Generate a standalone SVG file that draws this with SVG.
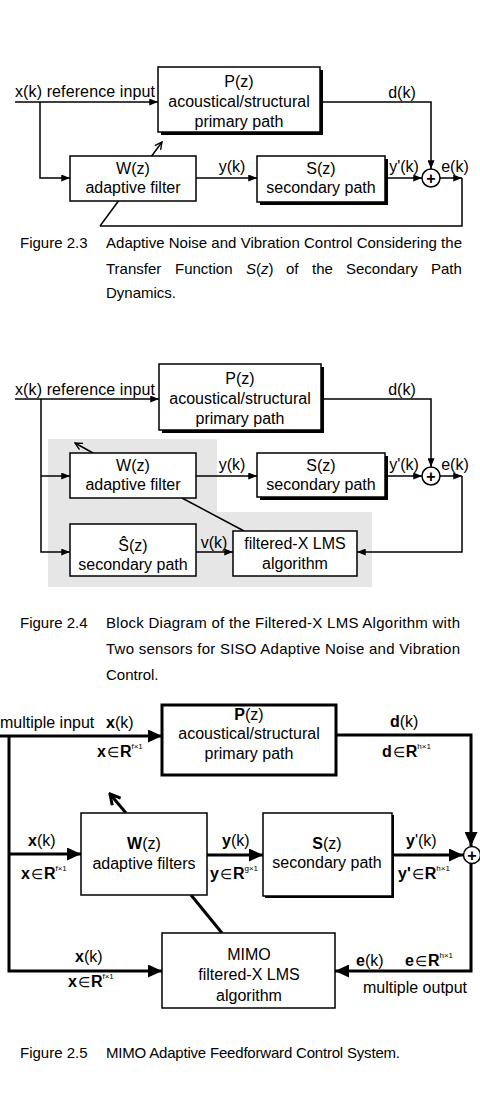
<svg xmlns="http://www.w3.org/2000/svg" width="480" height="1094" viewBox="0 0 480 1094">
<style>
text{font-family:"Liberation Sans",Arial,sans-serif;fill:#000}
.t{font-size:16px}
.m{text-anchor:middle}
.c{font-size:15px}
.b{font-weight:bold}
.sup{font-size:8px}
.el{font-size:14px}
.box{fill:#fff;stroke:#000;stroke-width:1.5}
.sh{fill:#000}
.ln{fill:none;stroke:#000;stroke-width:1.5}
.tk{fill:none;stroke:#000;stroke-width:3}
</style>
<defs>
<marker id="a" viewBox="0 0 10 8" refX="10" refY="4" markerWidth="9" markerHeight="7" markerUnits="userSpaceOnUse" orient="auto"><path d="M0,0 L10,4 L0,8 z"/></marker>
<marker id="A" viewBox="0 0 14 13" refX="14" refY="6.5" markerWidth="14" markerHeight="13" markerUnits="userSpaceOnUse" orient="auto"><path d="M0,0 L14,6.5 L0,13 z"/></marker>
<marker id="o" viewBox="0 0 10 10" refX="9" refY="5" markerWidth="9" markerHeight="9" markerUnits="userSpaceOnUse" orient="auto"><path d="M1,1 L9,5 L1,9" fill="none" stroke="#000" stroke-width="1.5"/></marker>
<marker id="O" viewBox="0 0 14 14" refX="12" refY="7" markerWidth="14" markerHeight="14" markerUnits="userSpaceOnUse" orient="auto"><path d="M2,1.5 L12,7 L2,12.5" fill="none" stroke="#000" stroke-width="3"/></marker>
</defs>
<rect width="480" height="1094" fill="#fff"/>

<!-- ===== Figure 2.3 ===== -->
<g id="fig23-connectors">
<path class="ln" d="M15,102 H158" marker-end="url(#a)"/>
<path class="ln" d="M40,102 V178 H70" marker-end="url(#a)"/>
<path class="ln" d="M196,178 H257" marker-end="url(#a)"/>
<path class="ln" d="M385,178 H422" marker-end="url(#a)"/>
<path class="ln" d="M320,102 H431 V169" marker-end="url(#a)"/>
<path class="ln" d="M440,178 H462" marker-end="url(#a)"/>
<path class="ln" d="M462,178 V226 H100"/>
<path class="ln" d="M100,226 L162,142" marker-end="url(#o)"/>
</g>
<g id="fig23-labels">
<text class="t" x="15" y="97" textLength="140">x(k) reference input</text>
<text class="t m" x="232" y="172">y(k)</text>
<text class="t m" x="404" y="172">y'(k)</text>
<text class="t m" x="402" y="98">d(k)</text>
<text class="t m" x="455" y="172">e(k)</text>
</g>
<g id="fig23-P">
<rect class="sh" x="161" y="70" width="162" height="65"/>
<rect class="box" x="158" y="67" width="162" height="65"/>
<text class="t m" x="239" y="87">P(z)</text>
<text class="t m" x="239" y="107">acoustical/structural</text>
<text class="t m" x="239" y="127">primary path</text>
</g>
<g id="fig23-W">
<rect class="box" x="70" y="156" width="126" height="45"/>
<text class="t m" x="133" y="174">W(z)</text>
<text class="t m" x="133" y="193">adaptive filter</text>
</g>
<g id="fig23-S">
<rect class="sh" x="260" y="159" width="128" height="46"/>
<rect class="box" x="257" y="156" width="128" height="46"/>
<text class="t m" x="321" y="174">S(z)</text>
<text class="t m" x="321" y="193">secondary path</text>
</g>
<g id="fig23-sum">
<circle class="box" cx="431" cy="178" r="9"/>
<text class="t m b" x="431" y="184">+</text>
</g>
<g id="fig23-caption">
<text class="c" x="20" y="248">Figure 2.3</text>
<text class="c" x="106" y="248" textLength="356" lengthAdjust="spacing">Adaptive Noise and Vibration Control Considering the</text>
<text class="c" x="106" y="274">Transfer</text>
<text class="c" x="175" y="274">Function</text>
<text class="c" x="246" y="274"><tspan font-style="italic">S</tspan>(<tspan font-style="italic">z</tspan>)</text>
<text class="c" x="286" y="274">of</text>
<text class="c" x="312" y="274">the</text>
<text class="c" x="346" y="274">Secondary</text>
<text class="c" x="431" y="274">Path</text>
<text class="c" x="106" y="298">Dynamics.</text>
</g>

<!-- ===== Figure 2.4 ===== -->
<polygon id="fig24-shade" points="48,439 217,439 217,512 372,512 372,587 48,587" fill="#e6e6e6"/>
<g id="fig24-connectors">
<path class="ln" d="M15,399 H159" marker-end="url(#a)"/>
<path class="ln" d="M41,399 V552 H70" marker-end="url(#a)"/>
<path class="ln" d="M41,476 H70" marker-end="url(#a)"/>
<path class="ln" d="M196,476 H257" marker-end="url(#a)"/>
<path class="ln" d="M385,476 H422" marker-end="url(#a)"/>
<path class="ln" d="M321,399 H431 V467" marker-end="url(#a)"/>
<path class="ln" d="M440,476 H462" marker-end="url(#a)"/>
<path class="ln" d="M462,476 V552 H357" marker-end="url(#a)"/>
<path class="ln" d="M196,552 H233" marker-end="url(#a)"/>
<path class="ln" d="M93,453 L75,443" marker-end="url(#o)"/>
<path class="ln" d="M182,498 L244,531"/>
</g>
<g id="fig24-labels">
<text class="t" x="15" y="395" textLength="140">x(k) reference input</text>
<text class="t m" x="232" y="470">y(k)</text>
<text class="t m" x="404" y="470">y'(k)</text>
<text class="t m" x="402" y="395">d(k)</text>
<text class="t m" x="455" y="470">e(k)</text>
<text class="t m" x="214" y="548">v(k)</text>
</g>
<g id="fig24-P">
<rect class="sh" x="162" y="367" width="162" height="66"/>
<rect class="box" x="159" y="364" width="162" height="66"/>
<text class="t m" x="240" y="384">P(z)</text>
<text class="t m" x="240" y="404">acoustical/structural</text>
<text class="t m" x="240" y="424">primary path</text>
</g>
<g id="fig24-W">
<rect class="box" x="70" y="453" width="126" height="45"/>
<text class="t m" x="133" y="471">W(z)</text>
<text class="t m" x="133" y="490">adaptive filter</text>
</g>
<g id="fig24-S">
<rect class="sh" x="260" y="456" width="128" height="44"/>
<rect class="box" x="257" y="453" width="128" height="44"/>
<text class="t m" x="321" y="471">S(z)</text>
<text class="t m" x="321" y="490">secondary path</text>
</g>
<g id="fig24-sum">
<circle class="box" cx="431" cy="476" r="9"/>
<text class="t m b" x="431" y="482">+</text>
</g>
<g id="fig24-Shat">
<rect class="box" x="70" y="524" width="126" height="52"/>
<text class="t m" x="133" y="551">Ŝ(z)</text>
<text class="t m" x="133" y="570">secondary path</text>
</g>
<g id="fig24-LMS">
<rect class="box" x="233" y="531" width="124" height="45"/>
<text class="t m" x="295" y="549">filtered-X LMS</text>
<text class="t m" x="295" y="569">algorithm</text>
</g>
<g id="fig24-caption">
<text class="c" x="20" y="628">Figure 2.4</text>
<text class="c" x="106" y="628" textLength="354" lengthAdjust="spacing">Block Diagram of the Filtered-X LMS Algorithm with</text>
<text class="c" x="106" y="654" textLength="354" lengthAdjust="spacing">Two sensors for SISO Adaptive Noise and Vibration</text>
<text class="c" x="106" y="680">Control.</text>
</g>

<!-- ===== Figure 2.5 ===== -->
<g id="fig25-connectors">
<path class="tk" d="M0,736 H162" marker-end="url(#A)"/>
<path class="tk" d="M9,736 V971 H162" marker-end="url(#A)"/>
<path class="tk" d="M9,854 H81" marker-end="url(#A)"/>
<path class="tk" d="M207,855 H263" marker-end="url(#A)"/>
<path class="tk" d="M392,855 H463" marker-end="url(#A)"/>
<path class="tk" d="M336,735 H471 V846" marker-end="url(#A)"/>
<path class="tk" d="M471,864 V971 H335" marker-end="url(#A)"/>
<path class="tk" d="M126,813 L110,794" marker-end="url(#O)"/>
<path class="tk" d="M191,895 L222,933"/>
</g>
<g id="fig25-labels">
<text class="t" x="0" y="728">multiple input</text>
<text class="t" x="106" y="728"><tspan class="b">x</tspan>(k)</text>
<text class="t" x="97" y="757"><tspan class="b">x</tspan><tspan class="el" dx="1">∈</tspan><tspan class="b" dx="1">R</tspan><tspan class="sup" dy="-8">f×1</tspan></text>
<text class="t" x="28" y="846"><tspan class="b">x</tspan>(k)</text>
<text class="t" x="21" y="879"><tspan class="b">x</tspan><tspan class="el" dx="1">∈</tspan><tspan class="b" dx="1">R</tspan><tspan class="sup" dy="-8">f×1</tspan></text>
<text class="t" x="222" y="846"><tspan class="b">y</tspan>(k)</text>
<text class="t" x="210" y="879"><tspan class="b">y</tspan><tspan class="el" dx="1">∈</tspan><tspan class="b" dx="1">R</tspan><tspan class="sup" dy="-8">g×1</tspan></text>
<text class="t" x="406" y="846"><tspan class="b">y</tspan>'(k)</text>
<text class="t" x="398" y="879"><tspan class="b">y'</tspan><tspan class="el" dx="1">∈</tspan><tspan class="b" dx="1">R</tspan><tspan class="sup" dy="-8">h×1</tspan></text>
<text class="t" x="390" y="727"><tspan class="b">d</tspan>(k)</text>
<text class="t" x="382" y="757"><tspan class="b">d</tspan><tspan class="el" dx="1">∈</tspan><tspan class="b" dx="1">R</tspan><tspan class="sup" dy="-8">h×1</tspan></text>
<text class="t" x="75" y="962"><tspan class="b">x</tspan>(k)</text>
<text class="t" x="68" y="987"><tspan class="b">x</tspan><tspan class="el" dx="1">∈</tspan><tspan class="b" dx="1">R</tspan><tspan class="sup" dy="-8">f×1</tspan></text>
<text class="t" x="356" y="966"><tspan class="b">e</tspan>(k)</text>
<text class="t" x="405" y="966"><tspan class="b">e</tspan><tspan class="el" dx="1">∈</tspan><tspan class="b" dx="1">R</tspan><tspan class="sup" dy="-8">h×1</tspan></text>
<text class="t" x="363" y="993">multiple output</text>
</g>
<g id="fig25-P">
<rect x="162" y="705" width="174" height="70" fill="#fff" stroke="#000" stroke-width="3"/>
<text class="t m" x="249" y="720"><tspan class="b">P</tspan>(z)</text>
<text class="t m" x="249" y="739">acoustical/structural</text>
<text class="t m" x="249" y="759">primary path</text>
</g>
<g id="fig25-W">
<rect class="box" x="81" y="813" width="126" height="82"/>
<text class="t m" x="144" y="849"><tspan class="b">W</tspan>(z)</text>
<text class="t m" x="144" y="869">adaptive filters</text>
</g>
<g id="fig25-S">
<rect class="sh" x="265" y="815" width="129" height="83"/>
<rect class="box" x="263" y="813" width="129" height="83"/>
<text class="t m" x="327" y="849"><tspan class="b">S</tspan>(z)</text>
<text class="t m" x="327" y="868">secondary path</text>
</g>
<g id="fig25-sum">
<circle class="box" cx="472" cy="855" r="8.5"/>
<text class="t m b" x="472" y="861">+</text>
</g>
<g id="fig25-MIMO">
<rect class="box" x="162" y="933" width="173" height="75"/>
<text class="t m" x="249" y="960">MIMO</text>
<text class="t m" x="249" y="980">filtered-X LMS</text>
<text class="t m" x="249" y="1001">algorithm</text>
</g>
<g id="fig25-caption">
<text class="c" x="20" y="1058">Figure 2.5</text>
<text class="c" x="106" y="1058" textLength="294" lengthAdjust="spacing">MIMO Adaptive Feedforward Control System.</text>
</g>
</svg>
